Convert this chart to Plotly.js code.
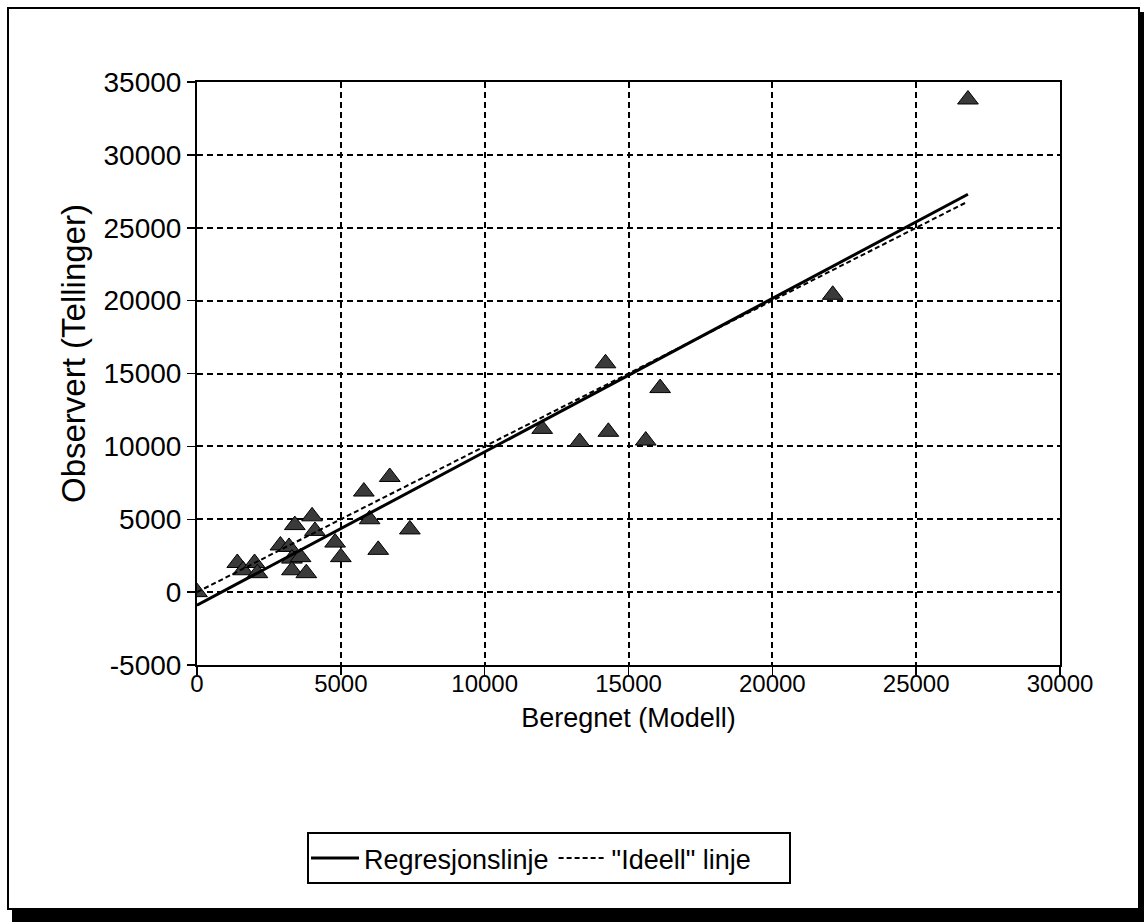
<!DOCTYPE html>
<html>
<head>
<meta charset="utf-8">
<script src="https://cdn.plot.ly/plotly-3.0.1.min.js"></script>
<style>
html,body{margin:0;padding:0;background:#fff;}
#chart{width:1144px;height:922px;}
</style>
</head>
<body>
<div id="chart"></div>
<script>
// Observed points (Beregnet = model, Observert = counts)
const beregnet = [0, 1400, 1600, 2000, 2100, 2900, 3200, 3400, 4000, 4100, 3300, 3600, 3300, 3800, 4800, 5000, 5800, 6000, 6300, 6700, 7400, 12000, 13300, 14200, 14300, 15600, 16100, 22100, 26800];
const observert = [0, 2000, 1500, 2000, 1300, 3200, 3100, 4600, 5200, 4200, 2300, 2400, 1500, 1300, 3400, 2400, 6900, 5000, 2900, 7900, 4300, 11200, 10300, 15700, 11000, 10400, 14000, 20400, 33800];
// Regression line end points
const regX = [0, 26800];
const regY = [-900, 27300];
// "Ideal" line end points
const idealX = [0, 26700];
const idealY = [0, 26700];
const xTicks = [0, 5000, 10000, 15000, 20000, 25000, 30000];
const yTicks = [-5000, 0, 5000, 10000, 15000, 20000, 25000, 30000, 35000];

const FONT2 = '"Liberation Sans", Arial, sans-serif';

// plot area in pixels
const L = 197, R = 1060, T = 82, B = 665;
const W = 1144, H = 922;
const px = v => (v - L) / (R - L);
const py = v => (B - v) / (B - T);

const traces = [
  {
    x: beregnet, y: observert, type: 'scatter', mode: 'markers',
    marker: {symbol: 'triangle-up', size: 18, color: '#3a3a3a', line: {color: '#000', width: 1}},
    showlegend: false, hoverinfo: 'x+y'
  },
  {
    x: regX, y: regY, type: 'scatter', mode: 'lines',
    name: 'Regresjonslinje',
    line: {color: '#000', width: 3}
  },
  {
    x: idealX, y: idealY, type: 'scatter', mode: 'lines',
    name: '"Ideell" linje',
    line: {color: '#000', width: 2, dash: '5px,3px'}
  }
];

const layout = {
  width: W, height: H,
  margin: {l: L, r: W - R, t: T, b: H - B},
  paper_bgcolor: '#fff', plot_bgcolor: '#fff',
  showlegend: true,
  legend: {
    orientation: 'h', x: px(306), y: py(834), xanchor: 'left', yanchor: 'top',
    font: {family: FONT2, size: 27, color: '#000'},
    bgcolor: 'rgba(0,0,0,0)', borderwidth: 0, itemwidth: 48
  },
  xaxis: {
    range: [0, 30000], tickvals: xTicks, ticktext: xTicks.map(String),
    showline: true, linecolor: '#000', linewidth: 2, mirror: true,
    ticks: 'outside', ticklen: 8, tickwidth: 1.5, tickcolor: '#000',
    ticklabelstandoff: -12,
    showgrid: true, gridcolor: '#000', gridwidth: 2, griddash: '6px,4px',
    zeroline: false,
    tickfont: {family: FONT2, size: 24, color: '#000'},
    title: {text: 'Beregnet (Modell)', font: {family: FONT2, size: 27, color: '#000'}, standoff: 12}
  },
  yaxis: {
    range: [-5000, 35000], tickvals: yTicks, ticktext: yTicks.map(String),
    showline: true, linecolor: '#000', linewidth: 2, mirror: true,
    ticks: 'outside', ticklen: 8, tickwidth: 1.5, tickcolor: '#000',
    showgrid: true, gridcolor: '#000', gridwidth: 2, griddash: '6px,4px',
    zeroline: false,
    tickfont: {family: FONT2, size: 28, color: '#000'}
  },
  annotations: [
    {text: 'Observert (Tellinger)', xref: 'paper', yref: 'paper', x: px(73), y: py(354),
     xanchor: 'center', yanchor: 'middle', textangle: -90, showarrow: false,
     font: {family: FONT2, size: 33, color: '#000'}}
  ],
  shapes: [
    // outer frame
    {type: 'rect', xref: 'paper', yref: 'paper', x0: px(8), x1: px(1139), y0: py(909), y1: py(8),
     line: {color: '#000', width: 2}, fillcolor: 'rgba(0,0,0,0)', layer: 'below'},
    // shadow bottom
    {type: 'rect', xref: 'paper', yref: 'paper', x0: px(12), x1: px(1144), y0: py(922), y1: py(909),
     line: {width: 0}, fillcolor: '#000'},
    // shadow right
    {type: 'rect', xref: 'paper', yref: 'paper', x0: px(1139), x1: px(1144), y0: py(922), y1: py(12),
     line: {width: 0}, fillcolor: '#000'},
    // legend box
    {type: 'rect', xref: 'paper', yref: 'paper', x0: px(308), x1: px(790), y0: py(883), y1: py(833),
     line: {color: '#000', width: 2}, fillcolor: 'rgba(0,0,0,0)'}
  ]
};

Plotly.newPlot('chart', traces, layout, {displayModeBar: false, staticPlot: true});
</script>
</body>
</html>
